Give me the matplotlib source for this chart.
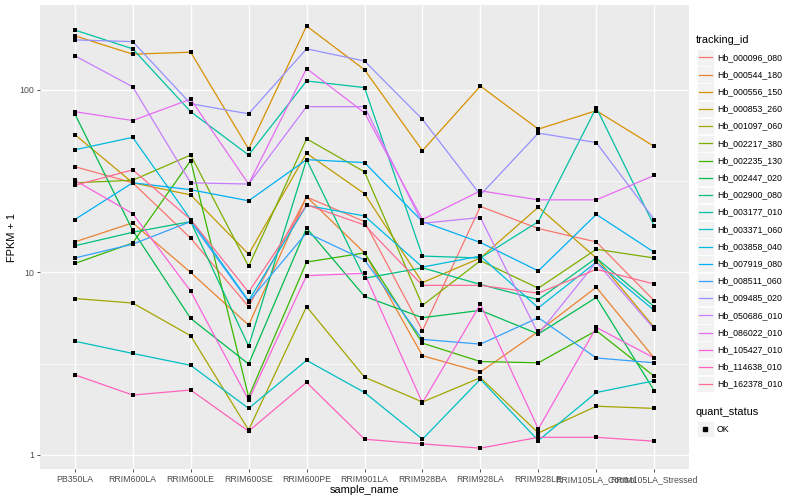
import matplotlib
matplotlib.use('Agg')
import matplotlib.pyplot as plt
from matplotlib.patches import Rectangle
from matplotlib.lines import Line2D

plt.rcParams['font.family'] = ['Liberation Sans', 'DejaVu Sans']

samples = ['PB350LA', 'RRIM600LA', 'RRIM600LE', 'RRIM600SE', 'RRIM600PE', 'RRIM901LA',
           'RRIM928BA', 'RRIM928LA', 'RRIM928LE', 'RRIM105LA_Control', 'RRIM105LA_Stressed']

tracking_ids = ['Hb_000096_080', 'Hb_000544_180', 'Hb_000556_150', 'Hb_000853_260',
                'Hb_001097_060', 'Hb_002217_380', 'Hb_002235_130', 'Hb_002447_020',
                'Hb_002900_080', 'Hb_003177_010', 'Hb_003371_060', 'Hb_003858_040',
                'Hb_007919_080', 'Hb_008511_060', 'Hb_009485_020', 'Hb_050686_010',
                'Hb_086022_010', 'Hb_105427_010', 'Hb_114638_010', 'Hb_162378_010']

# ggplot default hue palette for 20 levels
colors = ['#F8766D', '#EA8331', '#D89000', '#C09B00', '#A3A500', '#7CAE00', '#39B600',
          '#00BB4E', '#00BF7D', '#00C1A3', '#00BFC4', '#00BAE0', '#00B0F6', '#35A2FF',
          '#9590FF', '#C77CFF', '#E76BF3', '#FA62DB', '#FF62BC', '#FF6C91']

# FPKM + 1 per sample
hb_000096_080 = [38, 31, 15.4, 6.5, 25.9, 19, 4.8, 23, 17.4, 14.7, 7]
hb_000544_180 = [14.7, 18.7, 10, 5.15, 26, 12.8, 3.5, 2.85, 4.75, 8.3, 3.4]
hb_000556_150 = [198, 157, 161, 47.5, 224, 129, 46.5, 105, 61, 77, 49]
hb_000853_260 = [57, 31, 26.6, 12.6, 45, 27, 8.8, 12, 22.8, 12, 5]
hb_001097_060 = [7.2, 6.8, 4.5, 1.37, 6.5, 2.67, 1.95, 2.65, 1.32, 1.85, 1.8]
hb_002217_380 = [31, 32, 44, 10.8, 54, 35.6, 6.6, 11.6, 8.2, 13.4, 12]
hb_002235_130 = [11.2, 14.5, 41, 2.08, 11.4, 12.8, 4.1, 3.25, 3.2, 4.8, 2.7]
hb_002447_020 = [74, 17, 5.6, 3.15, 17.5, 7.4, 5.65, 6.2, 4.6, 7.3, 2.25]
hb_002900_080 = [14, 16.6, 19, 3.95, 41.5, 9.3, 10.6, 8.6, 7.1, 12, 6.5]
hb_003177_010 = [213, 168, 76, 44, 112, 103, 12.3, 12, 19, 80, 18]
hb_003371_060 = [4.2, 3.6, 3.1, 1.8, 3.3, 2.2, 1.22, 2.6, 1.2, 2.2, 2.55]
hb_003858_040 = [47, 55, 19.5, 7.0, 23.3, 20.4, 10.7, 12.3, 6.4, 11.4, 6.2]
hb_007919_080 = [19.5, 31, 28.4, 24.7, 41.5, 40, 19, 14.6, 10.2, 20.8, 12.9]
hb_008511_060 = [12, 14.3, 19, 6.9, 16.5, 11.7, 4.3, 4.05, 5.65, 3.4, 3.2]
hb_009485_020 = [188, 184, 84, 74, 168, 144, 69, 26.6, 58, 51.5, 19.5]
hb_050686_010 = [154, 104, 31, 30.5, 81, 81, 18.6, 20, 4.6, 11.4, 4.9]
hb_086022_010 = [76, 68, 89, 30.5, 131, 75, 19.5, 28, 25, 25, 34]
hb_105427_010 = [32, 21, 7.9, 2.0, 9.6, 9.9, 1.93, 6.7, 1.39, 5.0, 3.4]
hb_114638_010 = [2.75, 2.13, 2.27, 1.35, 2.5, 1.22, 1.15, 1.09, 1.25, 1.25, 1.19]
hb_162378_010 = [30, 36.5, 19.5, 7.8, 23.5, 18.2, 8.5, 8.5, 7.7, 10.4, 8.65]

series = [hb_000096_080, hb_000544_180, hb_000556_150, hb_000853_260, hb_001097_060,
          hb_002217_380, hb_002235_130, hb_002447_020, hb_002900_080, hb_003177_010,
          hb_003371_060, hb_003858_040, hb_007919_080, hb_008511_060, hb_009485_020,
          hb_050686_010, hb_086022_010, hb_105427_010, hb_114638_010, hb_162378_010]

fig = plt.figure(figsize=(8, 5), dpi=100)
ax = fig.add_axes([0.05, 0.062, 0.81125, 0.928])
ax.set_facecolor('#EBEBEB')

x = list(range(len(samples)))
for vals, col in zip(series, colors):
    ax.plot(x, vals, color=col, lw=0.9, zorder=2)
for vals in series:
    ax.scatter(x, vals, marker='s', s=9, color='black', linewidths=0, zorder=3)

ax.set_yscale('log')
ax.set_ylim(0.838, 292)
ax.set_xlim(-0.6, 10.6)
ax.set_yticks([1, 10, 100])
ax.set_yticklabels(['1', '10', '100'])
ax.set_yticks([3.1623, 31.623], minor=True)
ax.set_yticklabels([], minor=True)
ax.set_xticks(x)
ax.set_xticklabels(samples)

ax.grid(True, which='major', color='white', lw=1.0, zorder=0)
ax.grid(True, which='minor', axis='y', color='white', lw=0.5, zorder=0)
ax.set_axisbelow(True)
for s in ax.spines.values():
    s.set_visible(False)
ax.tick_params(which='major', length=2.2, width=0.6, color='#333333',
               labelsize=6.3, labelcolor='#4D4D4D', pad=2)
ax.tick_params(which='minor', length=0)

ax.set_xlabel('sample_name', fontsize=7.9)
ax.set_ylabel('FPKM + 1', fontsize=7.9)
ax.xaxis.set_label_coords(0.5, -0.035)
ax.yaxis.set_label_coords(-0.035, 0.5)

# legend, ggplot style
def fx(px):
    return px / 800.0

def fy(py):
    return 1 - py / 500.0

fig.text(fx(696), fy(40), 'tracking_id', fontsize=7.9, va='center', ha='left')
for i, (tid, col) in enumerate(zip(tracking_ids, colors)):
    yc = 57.3 + i * 17.2
    fig.add_artist(Rectangle((fx(697), fy(yc + 8.3)), fx(16.6), 16.6 / 500.0,
                             transform=fig.transFigure, facecolor='#F2F2F2',
                             edgecolor='white', lw=0.5))
    fig.add_artist(Line2D([fx(699), fx(712)], [fy(yc), fy(yc)],
                          transform=fig.transFigure, color=col, lw=0.9))
    fig.text(fx(717), fy(yc), tid, fontsize=6.3, va='center', ha='left')

fig.text(fx(696), fy(412), 'quant_status', fontsize=7.9, va='center', ha='left')
fig.add_artist(Rectangle((fx(697), fy(429 + 8.3)), fx(16.6), 16.6 / 500.0,
                         transform=fig.transFigure, facecolor='#F2F2F2',
                         edgecolor='white', lw=0.5))
fig.add_artist(Line2D([fx(705.3)], [fy(429)], transform=fig.transFigure,
                      marker='s', markersize=2.7, color='black', lw=0))
fig.text(fx(717), fy(429), 'OK', fontsize=6.3, va='center', ha='left')

fig.savefig('out.png', dpi=100)
